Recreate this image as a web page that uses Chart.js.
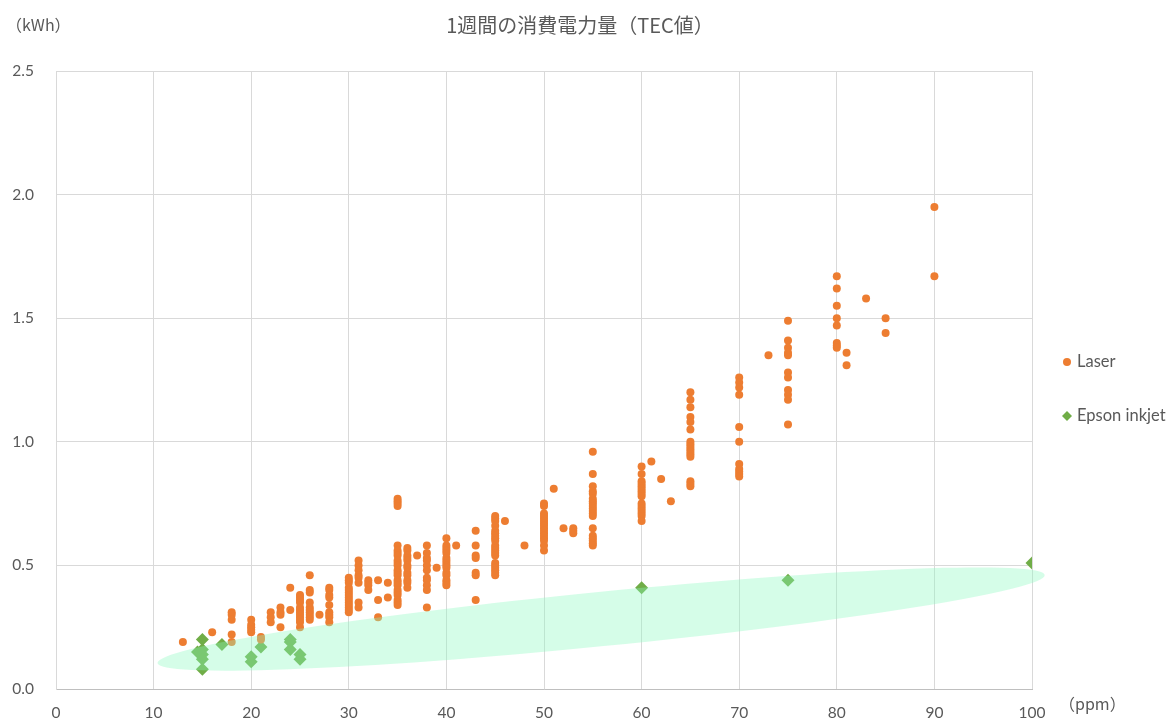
<!DOCTYPE html>
<html>
<head>
<meta charset="utf-8">
<script src="https://cdn.jsdelivr.net/npm/chart.js@4/dist/chart.umd.min.js"></script>
<style>
  html, body { margin: 0; padding: 0; background: #ffffff; }
  canvas { display: block; }
</style>
</head>
<body>
<canvas id="c" width="1173" height="722"></canvas>
<script>
// ---- Data ----
const chartTitle = '1週間の消費電力量（TEC値）';
const yUnitLabel = '（kWh）';
const xUnitLabel = '（ppm）';
const seriesNames = ['Laser', 'Epson inkjet'];

// Laser: ppm values and kWh values per ppm
const laserPpm = [13, 16, 18, 20, 21, 22, 23, 24, 25, 26, 27, 28, 30, 31, 32, 33, 34, 35, 36, 37, 38, 39, 40, 41, 43, 45, 46, 48, 50, 51, 52, 53, 55, 60, 61, 62, 63, 65, 70, 73, 75, 80, 81, 83, 85, 90];
const laserKwh = [
  [0.19],
  [0.23],
  [0.31, 0.30, 0.28, 0.22, 0.19],
  [0.28, 0.26, 0.25, 0.24, 0.23],
  [0.21, 0.20],
  [0.31, 0.29, 0.27],
  [0.33, 0.31, 0.30, 0.25],
  [0.41, 0.32],
  [0.38, 0.37, 0.36, 0.35, 0.33, 0.32, 0.31, 0.30, 0.29, 0.28, 0.27, 0.25],
  [0.46, 0.40, 0.39, 0.35, 0.33, 0.32, 0.31, 0.30, 0.29, 0.28],
  [0.30],
  [0.41, 0.40, 0.38, 0.37, 0.34, 0.31, 0.30, 0.29, 0.27],
  [0.45, 0.44, 0.43, 0.41, 0.40, 0.39, 0.38, 0.37, 0.36, 0.35, 0.34, 0.33, 0.32, 0.31],
  [0.52, 0.50, 0.48, 0.46, 0.45, 0.43, 0.35, 0.33],
  [0.44, 0.43, 0.42, 0.40],
  [0.44, 0.36, 0.29],
  [0.43, 0.37],
  [0.77, 0.76, 0.75, 0.74, 0.58, 0.56, 0.55, 0.54, 0.52, 0.51, 0.50, 0.48, 0.47, 0.46, 0.44, 0.43, 0.42, 0.40, 0.39, 0.38, 0.36, 0.35, 0.34],
  [0.57, 0.56, 0.54, 0.53, 0.52, 0.50, 0.49, 0.47, 0.46, 0.44, 0.43, 0.41],
  [0.54],
  [0.58, 0.55, 0.53, 0.52, 0.50, 0.48, 0.45, 0.44, 0.42, 0.40, 0.33],
  [0.49],
  [0.61, 0.58, 0.57, 0.56, 0.55, 0.53, 0.52, 0.51, 0.50, 0.49, 0.47, 0.46, 0.44, 0.43, 0.42],
  [0.58],
  [0.64, 0.58, 0.54, 0.53, 0.47, 0.46, 0.36],
  [0.70, 0.69, 0.68, 0.66, 0.64, 0.63, 0.62, 0.61, 0.60, 0.58, 0.57, 0.56, 0.55, 0.54, 0.51, 0.50, 0.49, 0.48, 0.47, 0.46],
  [0.68],
  [0.58],
  [0.75, 0.74, 0.71, 0.70, 0.69, 0.68, 0.67, 0.66, 0.65, 0.64, 0.63, 0.62, 0.61, 0.60, 0.58, 0.56],
  [0.81],
  [0.65],
  [0.65, 0.64, 0.63],
  [0.96, 0.87, 0.82, 0.80, 0.79, 0.77, 0.76, 0.75, 0.74, 0.73, 0.72, 0.71, 0.70, 0.65, 0.62, 0.61, 0.60, 0.59, 0.58],
  [0.90, 0.87, 0.84, 0.83, 0.82, 0.81, 0.80, 0.79, 0.78, 0.75, 0.74, 0.73, 0.72, 0.71, 0.70, 0.68],
  [0.92],
  [0.85],
  [0.76],
  [1.20, 1.17, 1.14, 1.10, 1.08, 1.05, 1.00, 0.99, 0.98, 0.97, 0.96, 0.95, 0.94, 0.84, 0.83, 0.82],
  [1.26, 1.24, 1.22, 1.19, 1.06, 1.00, 0.91, 0.89, 0.88, 0.87, 0.86],
  [1.35],
  [1.49, 1.41, 1.38, 1.36, 1.35, 1.28, 1.26, 1.21, 1.19, 1.17, 1.07],
  [1.67, 1.62, 1.55, 1.50, 1.47, 1.40, 1.39, 1.38],
  [1.36, 1.31],
  [1.58],
  [1.50, 1.44],
  [1.95, 1.67]
];

// Epson inkjet
const epsonPpm = [15, 14.5, 15, 15, 15, 15, 17, 20, 20, 21, 24, 24, 24, 25, 25, 60, 75, 100];
const epsonKwh = [0.20, 0.15, 0.16, 0.14, 0.12, 0.08, 0.18, 0.13, 0.11, 0.17, 0.20, 0.19, 0.16, 0.14, 0.12, 0.41, 0.44, 0.51];

// Highlight ellipse (data units): two ends of the long axis, half-width in kWh
const ellipseEndA = [10.4, 0.105];
const ellipseEndB = [101.3, 0.461];
const ellipseHalfWidth = 0.11;

// Axis ticks
const xTickMin = 0, xTickMax = 100, xTickStep = 10;
const yTickMin = 0, yTickMax = 2.5, yTickStep = 0.5;

// ---- Build datasets ----
const laserPoints = [];
laserPpm.forEach((p, i) => laserKwh[i].forEach(v => laserPoints.push({ x: p, y: v })));
const epsonPoints = epsonPpm.map((p, i) => ({ x: p, y: epsonKwh[i] }));

const TEXT = '#595959';
const LATIN = 'Lato, "Open Sans", sans-serif';
const CJK = '"Noto Sans CJK JP", "Noto Sans", sans-serif';

const ellipsePlugin = {
  id: 'ellipse',
  afterDatasetsDraw(chart) {
    const xs = chart.scales.x, ys = chart.scales.y, ctx = chart.ctx;
    const ax = xs.getPixelForValue(ellipseEndA[0]), ay = ys.getPixelForValue(ellipseEndA[1]);
    const bx = xs.getPixelForValue(ellipseEndB[0]), by = ys.getPixelForValue(ellipseEndB[1]);
    const cx = (ax + bx) / 2, cy = (ay + by) / 2;
    const rx = Math.hypot(bx - ax, by - ay) / 2;
    const ry = Math.abs(ys.getPixelForValue(0) - ys.getPixelForValue(ellipseHalfWidth));
    const rot = Math.atan2(by - ay, bx - ax);
    ctx.save();
    ctx.beginPath();
    ctx.ellipse(cx, cy, rx, ry, rot, 0, Math.PI * 2);
    ctx.fillStyle = 'rgba(138,249,191,0.36)';
    ctx.fill();
    ctx.restore();
  }
};

const textPlugin = {
  id: 'texts',
  afterDraw(chart) {
    const ctx = chart.ctx;
    ctx.save();
    ctx.fillStyle = TEXT;
    // Title
    ctx.font = '20px ' + CJK;
    ctx.textAlign = 'center';
    ctx.textBaseline = 'middle';
    ctx.fillText(chartTitle, 580, 25);
    // Unit labels
    ctx.font = '16px ' + CJK;
    ctx.textAlign = 'left';
    ctx.fillText(yUnitLabel, 6, 25);
    ctx.fillText(xUnitLabel, 1059, 704);
    // Legend
    const items = chart.data.datasets;
    const ly = [362, 416];
    items.forEach((ds, i) => {
      const mx = 1067, my = ly[i];
      ctx.fillStyle = ds.backgroundColor;
      ctx.beginPath();
      if (ds.pointStyle === 'rectRot') {
        const r = 5;
        ctx.moveTo(mx - r, my); ctx.lineTo(mx, my - r); ctx.lineTo(mx + r, my); ctx.lineTo(mx, my + r);
        ctx.closePath();
      } else {
        ctx.arc(mx, my, 4, 0, Math.PI * 2);
      }
      ctx.fill();
      ctx.fillStyle = TEXT;
      ctx.font = '16.5px ' + LATIN;
      ctx.textAlign = 'left';
      ctx.textBaseline = 'middle';
      ctx.fillText(ds.label, 1077, my);
    });
    ctx.restore();
  }
};

new Chart(document.getElementById('c'), {
  type: 'scatter',
  data: {
    datasets: [
      {
        label: seriesNames[0],
        data: laserPoints,
        backgroundColor: '#ED7D31',
        borderColor: '#ED7D31',
        borderWidth: 0,
        pointStyle: 'circle',
        pointRadius: 4,
        pointHoverRadius: 4
      },
      {
        label: seriesNames[1],
        data: epsonPoints,
        backgroundColor: '#70AD47',
        borderColor: '#70AD47',
        borderWidth: 0,
        pointStyle: 'rectRot',
        pointRadius: 6.5,
        pointHoverRadius: 6.5
      }
    ]
  },
  options: {
    responsive: false,
    animation: false,
    devicePixelRatio: 1,
    events: [],
    layout: { padding: { left: 0, top: 71, right: 141, bottom: 0 } },
    plugins: {
      legend: { display: false },
      title: { display: false },
      tooltip: { enabled: false }
    },
    scales: {
      x: {
        type: 'linear',
        min: xTickMin, max: xTickMax,
        afterFit(s) { s.height = 33; },
        ticks: {
          stepSize: xTickStep,
          color: TEXT,
          font: { family: LATIN, size: 15.5 },
          padding: 15,
          maxRotation: 0
        },
        grid: { color: '#d9d9d9', lineWidth: 1, drawTicks: false },
        border: { color: '#bfbfbf', width: 1 }
      },
      y: {
        type: 'linear',
        min: yTickMin, max: yTickMax,
        afterFit(s) { s.width = 56; },
        ticks: {
          stepSize: yTickStep,
          color: TEXT,
          font: { family: LATIN, size: 15.5 },
          padding: 22,
          callback: v => Number(v).toFixed(1)
        },
        grid: { color: '#d9d9d9', lineWidth: 1, drawTicks: false },
        border: { color: '#d9d9d9', width: 1 }
      }
    }
  },
  plugins: [ellipsePlugin, textPlugin]
});
</script>
</body>
</html>
